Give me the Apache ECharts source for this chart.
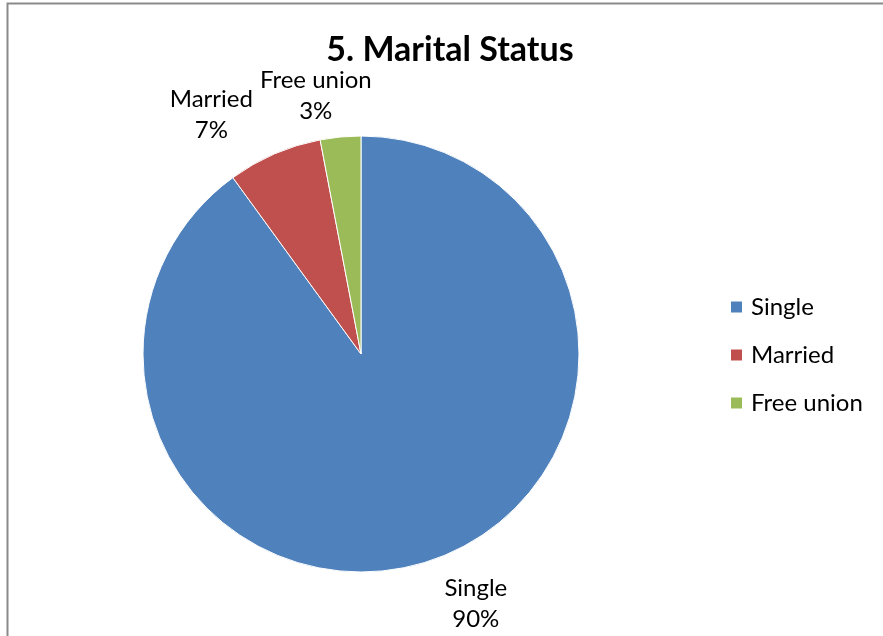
<!DOCTYPE html>
<html>
<head>
<meta charset="utf-8">
<script src="https://cdn.jsdelivr.net/npm/echarts@6/dist/echarts.min.js"></script>
<style>
  html, body { margin: 0; padding: 0; background: #fff; }
  #chart { width: 883px; height: 636px; }
</style>
</head>
<body>
<div id="chart"></div>
<script>
// 数据
const categories = ['Single', 'Married', 'Free union'];
const percents = [90, 7, 3];
const colors = ['#4F81BD', '#C0504D', '#9BBB59'];

// label nudges (px) so they sit like the original
const labelShiftX = [27, 26, -15];
const labelShiftY = [-5, -36, 9];

const fontName = 'Lato, "Open Sans", sans-serif';

const seriesData = categories.map((name, i) => ({
  name: name,
  value: percents[i],
  itemStyle: { color: colors[i] }
}));

const chart = echarts.init(document.getElementById('chart'));

chart.setOption({
  backgroundColor: '#fff',
  animation: false,
  title: {
    text: '5. Marital Status',
    left: 445,
    textAlign: 'center',
    top: 28,
    textStyle: { fontFamily: fontName, fontSize: 34, fontWeight: 'bold', color: '#000' }
  },
  legend: {
    orient: 'vertical',
    left: 729,
    top: 295,
    padding: 0,
    itemWidth: 13,
    itemHeight: 13,
    itemGap: 24,
    icon: 'rect',
    data: categories,
    textStyle: { fontFamily: fontName, fontSize: 24, lineHeight: 24, color: '#000', padding: [0, 0, 0, 3] }
  },
  graphic: [{
    type: 'rect',
    shape: { x: 7.5, y: 3.5, width: 900, height: 700 },
    style: { fill: 'none', stroke: '#8a8a8a', lineWidth: 2 },
    silent: true
  }],
  series: [{
    type: 'pie',
    center: [361, 354],
    radius: 218,
    startAngle: 90,
    clockwise: true,
    data: seriesData,
    itemStyle: { borderColor: '#fff', borderWidth: 1 },
    label: {
      show: true,
      position: 'outside',
      formatter: '{b}\n{c}%',
      fontFamily: fontName,
      fontSize: 24,
      lineHeight: 31,
      color: '#000'
    },
    labelLine: { show: false, length: 50, length2: 0 },
    labelLayout: function (params) {
      const i = params.dataIndex;
      return {
        align: 'center',
        verticalAlign: 'middle',
        dx: labelShiftX[i],
        dy: labelShiftY[i]
      };
    }
  }]
});
</script>
</body>
</html>
